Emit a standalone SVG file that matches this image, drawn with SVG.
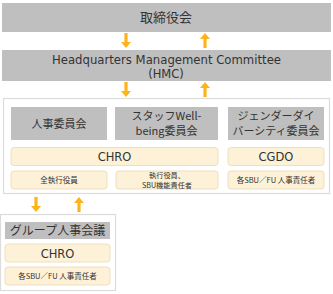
<svg xmlns="http://www.w3.org/2000/svg" width="333" height="294" viewBox="0 0 333 294">
<style>
.g{fill:#bfbfbf}
.c{fill:#ffffff;stroke:#dcdcdc;stroke-width:1.2}
.b{fill:#fdf1d8;stroke:#f0dfbf;stroke-width:1}
.a{fill:#ffb31a}
text{font-family:"DejaVu Sans","Noto Sans CJK JP",sans-serif;fill:#333333;text-anchor:middle}
.j{font-family:"Noto Sans CJK JP",sans-serif}
</style>
<defs>
<path id="dn" d="M-1.6,0 H1.6 V9 H5 L0,15 L-5,9 H-1.6 Z"/>
<path id="up" d="M-1.6,15 H1.6 V6 H5 L0,0 L-5,6 H-1.6 Z"/>
</defs>
<rect x="0" y="0" width="333" height="294" fill="#ffffff"/>
<g id="board">
<rect class="g" x="2" y="3" width="329" height="29"/>
<text class="j" x="166" y="22" font-size="13">取締役会</text>
</g>
<g id="hmc">
<rect class="g" x="2" y="50" width="329" height="31"/>
<text x="166.5" y="63.5" font-size="11.5" textLength="229" lengthAdjust="spacingAndGlyphs">Headquarters Management Committee</text>
<text x="166" y="77.5" font-size="11.5">(HMC)</text>
</g>
<g id="committees-container">
<rect class="c" x="3.5" y="98.5" width="326" height="95"/>
</g>
<g id="jinji">
<rect class="g" x="11" y="107" width="96" height="33"/>
<text class="j" x="59" y="128" font-size="11">人事委員会</text>
</g>
<g id="wellbeing">
<rect class="g" x="115" y="107" width="103" height="33"/>
<text class="j" x="166.5" y="120" font-size="11">スタッフWell-</text>
<text class="j" x="166.5" y="135" font-size="11">being委員会</text>
</g>
<g id="gender">
<rect class="g" x="228" y="107" width="96" height="33"/>
<text class="j" x="276" y="120" font-size="11">ジェンダーダイ</text>
<text class="j" x="276" y="135" font-size="11">バーシティ委員会</text>
</g>
<g id="chro1">
<rect class="b" x="11" y="147.5" width="207" height="18" rx="3"/>
<text x="114.5" y="161" font-size="11.5">CHRO</text>
</g>
<g id="cgdo">
<rect class="b" x="228" y="147.5" width="96" height="18" rx="3"/>
<text x="276" y="161" font-size="11.5">CGDO</text>
</g>
<g id="zen">
<rect class="b" x="11" y="171" width="96" height="18" rx="3"/>
<text class="j" x="59" y="183" font-size="7.5">全執行役員</text>
</g>
<g id="shikko">
<rect class="b" x="116" y="171" width="102" height="18" rx="3"/>
<text class="j" x="167" y="178" font-size="7.2">執行役員、</text>
<text class="j" x="167" y="187.5" font-size="7.2">SBU機能責任者</text>
</g>
<g id="sbu1">
<rect class="b" x="228" y="171" width="96" height="18" rx="3"/>
<text class="j" x="276" y="183" font-size="7.5">各SBU／FU 人事責任者</text>
</g>
<g id="group-container">
<rect class="c" x="0.5" y="214.5" width="115" height="76"/>
</g>
<g id="group">
<rect class="g" x="5" y="222" width="105" height="17"/>
<text class="j" x="57.5" y="235" font-size="12">グループ人事会議</text>
</g>
<g id="chro2">
<rect class="b" x="5" y="244" width="105" height="18" rx="3"/>
<text x="57.5" y="257.5" font-size="11.5">CHRO</text>
</g>
<g id="sbu2">
<rect class="b" x="5" y="267" width="105" height="18" rx="3"/>
<text class="j" x="57.5" y="279" font-size="7.5">各SBU／FU 人事責任者</text>
</g>
<g id="connectors">
<use href="#dn" class="a" x="126" y="33"/>
<use href="#up" class="a" x="205" y="33"/>
<use href="#dn" class="a" x="126" y="82"/>
<use href="#up" class="a" x="205" y="82"/>
<use href="#dn" class="a" x="36" y="197"/>
<use href="#up" class="a" x="79" y="197"/>
</g>
</svg>
